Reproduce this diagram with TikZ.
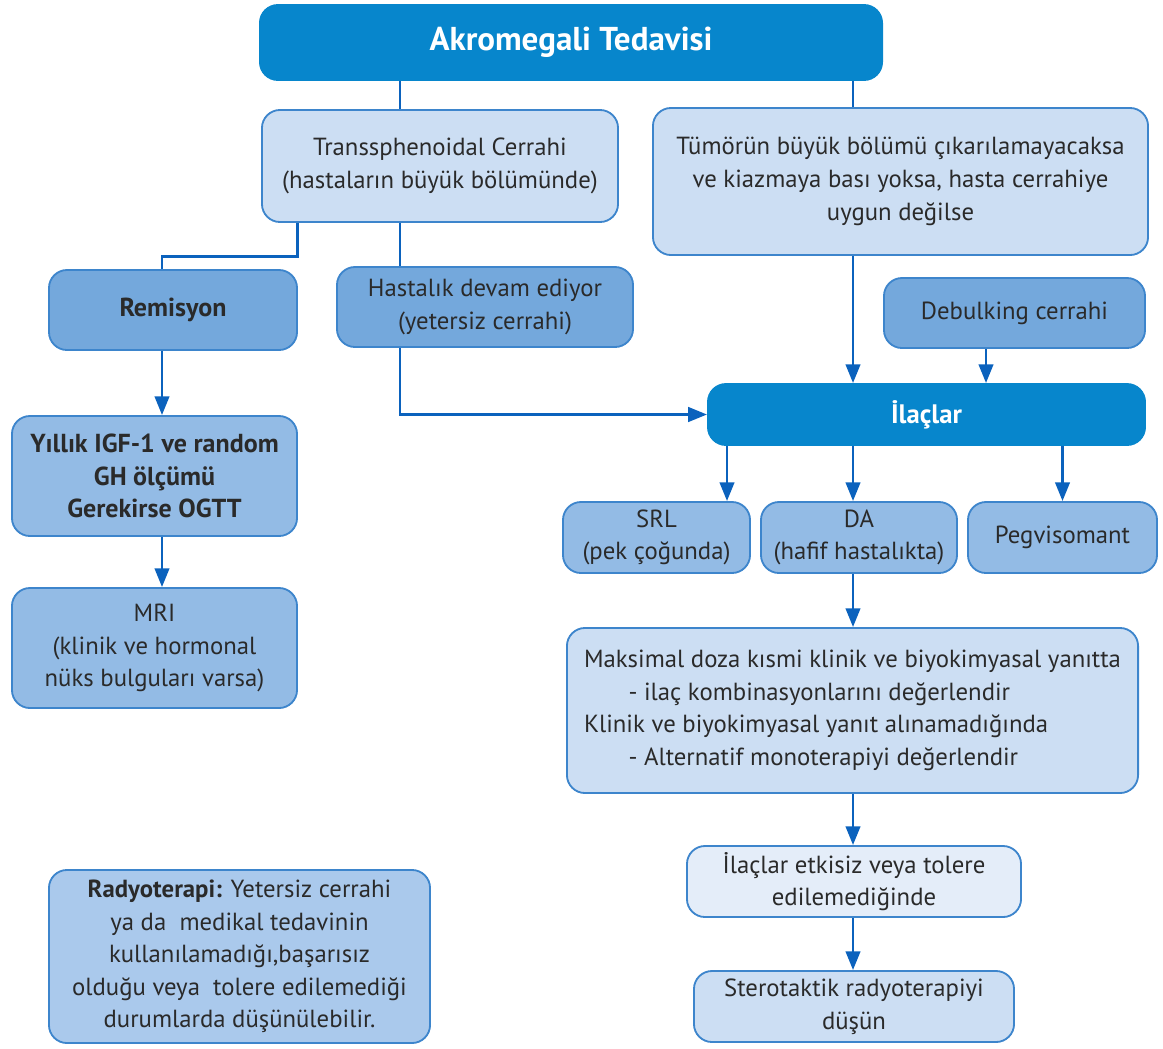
\documentclass[tikz,border=0pt]{standalone}
\usepackage{fontspec}
\setmainfont{PT Sans}
\usetikzlibrary{arrows.meta, positioning, calc}
\definecolor{headc}{HTML}{0786CC}
\definecolor{arrc}{HTML}{0B62BD}
\definecolor{bordc}{HTML}{3D85CC}
\definecolor{paleOne}{HTML}{CCDEF3}
\definecolor{paleTwo}{HTML}{E4EDF9}
\definecolor{midOne}{HTML}{74A8DC}
\definecolor{midTwo}{HTML}{93BBE5}
\definecolor{midThree}{HTML}{AAC9EC}
\definecolor{inkOne}{HTML}{2A2A2A}
\tikzset{
  box/.style={draw=bordc, line width=1.3pt, rounded corners=0.45cm, align=center, inner sep=0pt,
    text=inkOne, font=\fontsize{17.6}{23.2}\selectfont},
  boldbox/.style={font=\fontsize{18.5}{23.2}\selectfont\bfseries},
  head/.style={box, draw=headc, fill=headc, text=white, font=\fontsize{23.5}{26}\selectfont\bfseries},
  pale/.style={box, fill=paleOne},
  palest/.style={box, fill=paleTwo},
  mid/.style={box, fill=midOne},
  midb/.style={box, fill=midTwo},
  midc/.style={box, fill=midThree},
  link/.style={draw=arrc, line width=2.1pt},
  arr/.style={link, -{Triangle[length=0.47cm, width=0.36cm]}},
}
\begin{document}
\begin{tikzpicture}[x=0.025cm, y=-0.025cm]
  \useasboundingbox (0,0) rectangle (1163,1048);
  % columns used by the connectors
  \coordinate (lx) at (162,0);
  \coordinate (ax) at (400,0);
  \coordinate (bx) at (853,0);
  \coordinate (dx) at (986,0);
  \coordinate (sx) at (727,0);
  % ---- top row
  \node[head, minimum width=15.55cm, minimum height=1.875cm] (akro) at (571,42.5) {Akromegali Tedavisi};
  \node[pale, minimum width=8.9cm, minimum height=2.8cm] (trans) at (440,166)
    {Transsphenoidal Cerrahi\\(hastaların büyük bölümünde)};
  \node[pale, minimum width=12.375cm, minimum height=3.675cm] (tumor) at (900.5,181.5)
    {Tümörün büyük bölümü çıkarılamayacaksa\\ve kiazmaya bası yoksa, hasta cerrahiye\\uygun değilse};
  % ---- left branch
  \node[mid, boldbox, minimum width=6.2cm, minimum height=2cm] (remis) at (173,310) {Remisyon};
  \node[mid, minimum width=7.4cm, minimum height=2cm] (hast) at (485,307) {Hastalık devam ediyor\\(yetersiz cerrahi)};
  \node[midb, boldbox, minimum width=7.125cm, minimum height=3cm] (yillik) at (154.5,476)
    {Yıllık IGF-1 ve random\\GH ölçümü\\Gerekirse OGTT};
  \node[midb, minimum width=7.125cm, minimum height=3cm] (mri) at (154.5,648)
    {MRI\\(klinik ve hormonal\\nüks bulguları varsa)};
  % ---- drugs
  \node[mid, minimum width=6.525cm, minimum height=1.75cm] (debulk) at (1014.5,313) {Debulking cerrahi};
  \node[head, minimum width=10.925cm, minimum height=1.525cm, font=\fontsize{19}{22}\selectfont\bfseries] (ilac) at (926.5,414.5) {İlaçlar};
  \node[midb, minimum width=4.675cm, minimum height=1.775cm] (srl) at (656.5,537.5) {SRL\\(pek çoğunda)};
  \node[midb, minimum width=4.9cm, minimum height=1.775cm] (da) at (859,537.5) {DA\\(hafif hastalıkta)};
  \node[midb, minimum width=4.725cm, minimum height=1.775cm] (peg) at (1062.5,537.5) {Pegvisomant};
  \node[pale, minimum width=14.275cm, minimum height=4.125cm, align=left] (maks) at (852.5,710.5)
    {Maksimal doza kısmi klinik ve biyokimyasal yanıtta\\
     \hspace*{1.8em}- ilaç kombinasyonlarını değerlendir\\
     Klinik ve biyokimyasal yanıt alınamadığında\\
     \hspace*{1.8em}- Alternatif monoterapiyi değerlendir};
  \node[palest, minimum width=8.35cm, minimum height=1.775cm] (etk) at (854,881.5)
    {İlaçlar etkisiz veya tolere\\edilemediğinde};
  \node[pale, minimum width=8cm, minimum height=1.775cm] (stero) at (854,1006.5)
    {Sterotaktik radyoterapiyi\\düşün};
  \node[midc, minimum width=9.525cm, minimum height=4.325cm] (radyo) at (239.5,956.5)
    {\textbf{Radyoterapi:} Yetersiz cerrahi\\ya da \ medikal tedavinin\\kullanılamadığı,başarısız\\olduğu veya \ tolere edilemediği\\durumlarda düşünülebilir.};
  % ---- connectors
  \draw[link] (akro.south -| ax) -- (trans.north -| ax);
  \draw[link] (akro.south -| bx) -- (tumor.north -| bx);
  \draw[link] (trans.south -| remis.east) -- ++(0,34) -| (remis.north -| lx);
  \draw[link] (trans.south -| ax) -- (hast.north -| ax);
  \draw[arr] (remis.south -| lx) -- (yillik.north -| lx);
  \draw[arr] (yillik.south -| lx) -- (mri.north -| lx);
  \draw[arr] (hast.south -| ax) |- (ilac.west);
  \draw[arr] (tumor.south -| bx) -- (ilac.north -| bx);
  \draw[arr] (debulk.south -| dx) -- (ilac.north -| dx);
  \draw[arr] (ilac.south -| sx) -- (srl.north -| sx);
  \draw[arr] (ilac.south -| bx) -- (da.north -| bx);
  \draw[arr] (ilac.south -| peg) -- (peg.north);
  \draw[arr] (da.south -| bx) -- (maks.north -| bx);
  \draw[arr] (maks.south -| bx) -- (etk.north -| bx);
  \draw[arr] (etk.south -| bx) -- (stero.north -| bx);
\end{tikzpicture}
\end{document}
